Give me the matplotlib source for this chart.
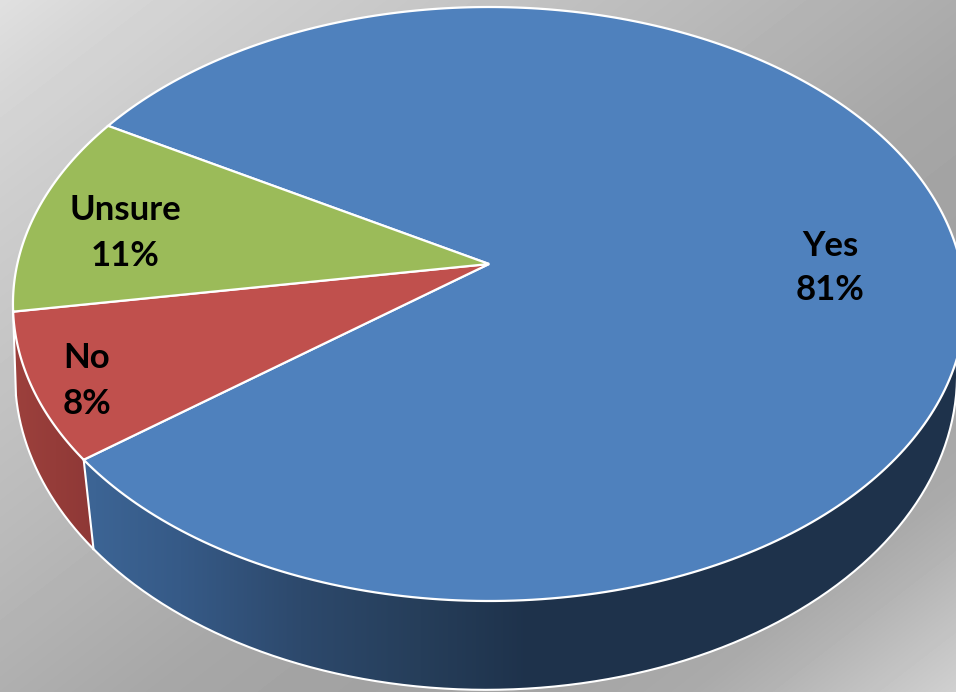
import numpy as np
import matplotlib
matplotlib.use('Agg')
import matplotlib.pyplot as plt
from matplotlib.patches import Polygon

# chart data
labels = ['Yes', 'No', 'Unsure']
values = [81, 8, 11]
colors = ['#4f81bd', '#c0504d', '#9bbb59']
label_pos = [(830, 268), (87, 381), (125, 233)]

# wall colours, read across the picture from left to right
wall_x = {'Yes': [95, 180, 300, 420, 530, 956], 'No': [15, 95]}
wall_blue = [[60, 54, 45, 38, 30, 30], [100, 90, 73, 62, 50, 50], [148, 135, 108, 90, 75, 75]]
wall_red = [[156, 142], [64, 56], [60, 54]]

# background grey along the diagonal
bg_stops = [0, 120, 260, 520, 700, 1050, 1250, 1450, 1588, 1656, 1856]
bg_grey = [224, 214, 206, 194, 186, 167, 162, 165, 170, 178, 208]

W, H = 956, 692


def rim(angle, cx, cy, a, b, p):
    # point on a circle tilted away from the viewer, angle in degrees
    t = np.radians(angle)
    d = 1 + p * np.sin(t)
    return cx + a * np.cos(t) / d, cy - b * np.sin(t) / d


def top_rim(angle):
    return rim(angle, 489, 264, 471.7, 291.6, 0.1347)


def bottom_rim(angle):
    return rim(angle, 486, 345, 468.9, 312, 0.0952)


fig = plt.figure(figsize=(W / 100, H / 100), dpi=100)
ax = fig.add_axes([0, 0, 1, 1])
ax.set_xlim(0, W)
ax.set_ylim(H, 0)
ax.axis('off')

# background gradient
xx, yy = np.meshgrid(np.arange(W), np.arange(H))
bg = np.interp(xx + 1.3 * yy, bg_stops, bg_grey)
ax.imshow(bg, cmap='gray', vmin=0, vmax=255, extent=(0, W, H, 0), aspect='auto', zorder=0)

# slices go round from the Yes/Unsure edge
start = 149.6
edges = start + np.cumsum([0] + [v * 3.6 for v in [values[2], values[1], values[0]]])
slices = {'Unsure': (edges[0], edges[1]), 'No': (edges[1], edges[2]), 'Yes': (edges[2], edges[3])}

# side wall, only the front part shows
for name, rgb, z in [('No', wall_red, 1), ('Yes', wall_blue, 2)]:
    a0 = max(slices[name][0], 180)
    a1 = min(slices[name][1], 370)
    ang = np.linspace(a0, a1, 200)
    tx, ty = top_rim(ang)
    bx, by = bottom_rim(ang)
    pts = np.column_stack([np.r_[tx, bx[::-1]], np.r_[ty, by[::-1]]])
    cols = np.arange(W)
    img = np.stack([np.interp(cols, wall_x[name], c) for c in rgb], axis=1)[None, :, :] / 255
    im = ax.imshow(img, extent=(0, W, H, 0), aspect='auto', zorder=z)
    poly = Polygon(pts, closed=True, transform=ax.transData, fc='none', ec='none')
    ax.add_patch(poly)
    im.set_clip_path(poly)
    # white edge along the bottom and at the seam
    ax.plot(bx, by, color='white', lw=1.5, zorder=z + 0.1)
    ax.plot([tx[0], bx[0]], [ty[0], by[0]], color='white', lw=1.5, zorder=z + 0.1)

ax.set_xlim(0, W)
ax.set_ylim(H, 0)

# top faces
for name, color in zip(labels, colors):
    ang = np.linspace(slices[name][0], slices[name][1], 300)
    x, y = top_rim(ang)
    ax.fill(np.r_[489, x], np.r_[264, y], facecolor=color, edgecolor='white', lw=1.6,
            joinstyle='miter', zorder=5)

# data labels
for name, v, pos in zip(labels, values, label_pos):
    ax.text(pos[0], pos[1], f'{name}\n{v}%', ha='center', va='center', fontsize=25,
            fontweight='bold', family='Lato', color='black', linespacing=1.5, zorder=6)

fig.savefig('out.png', dpi=100)
